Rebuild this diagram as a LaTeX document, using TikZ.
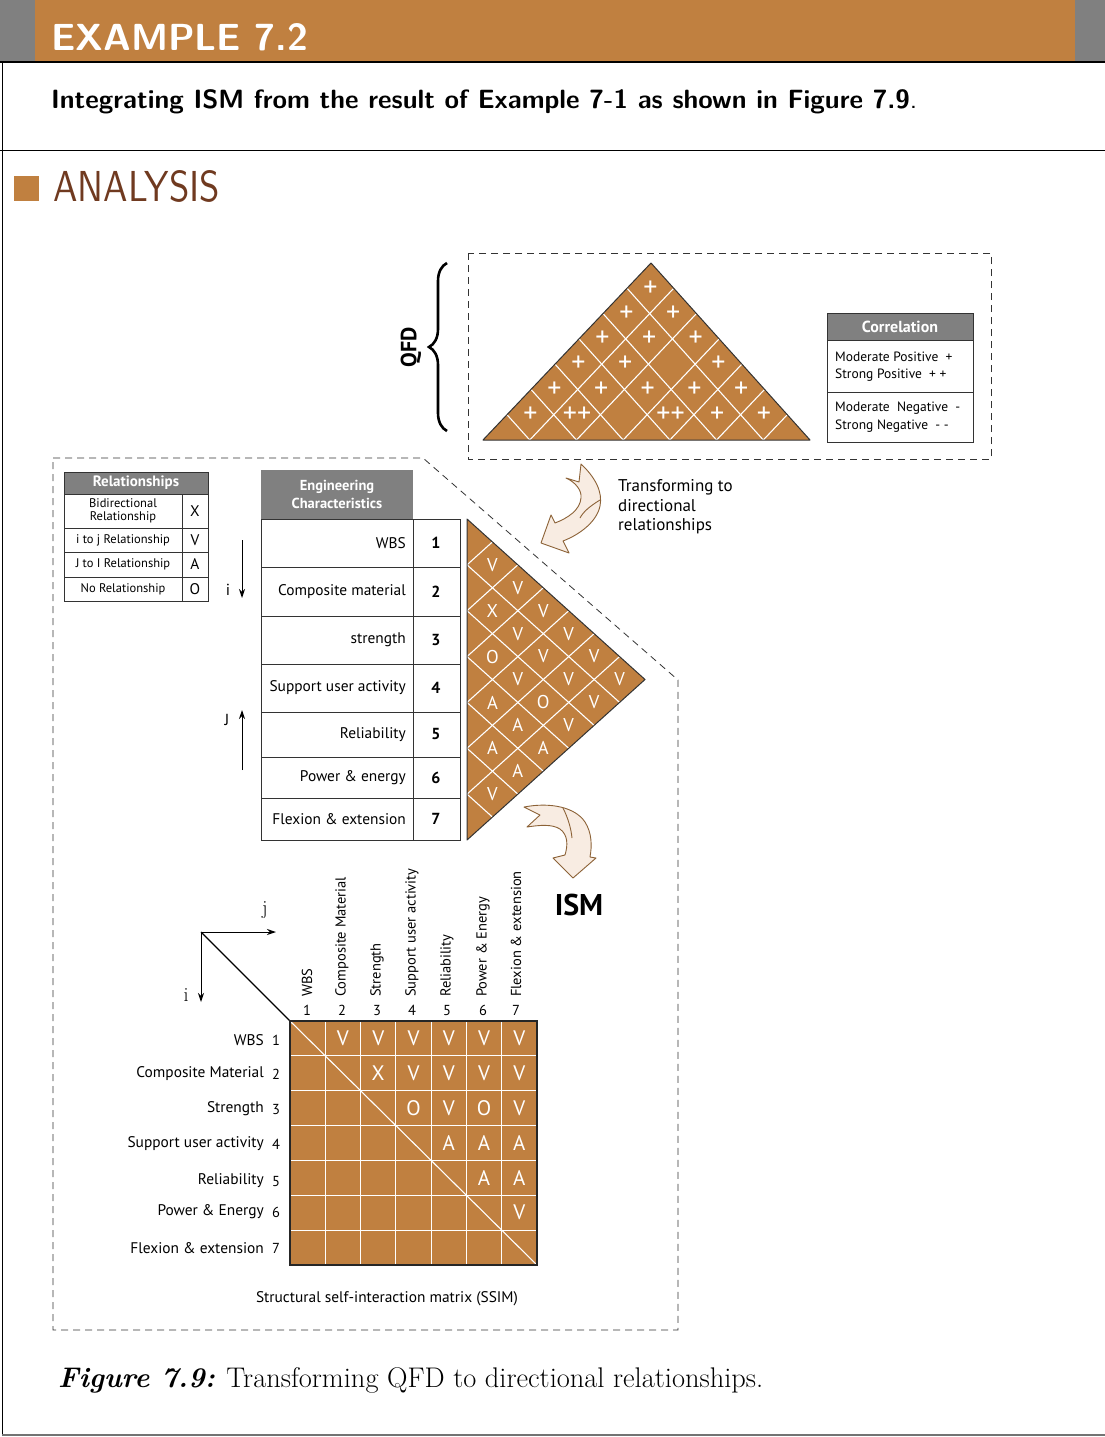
\documentclass[tikz,border=0pt]{standalone}
\usepackage{fontspec}
\usepackage{graphicx}
\newfontfamily\dfont{PT Sans}
\usetikzlibrary{arrows.meta,decorations.pathreplacing}
\definecolor{qorange}{RGB}{192,128,64}
\definecolor{qgray}{RGB}{128,128,128}
\definecolor{qbrown}{RGB}{112,58,32}
\definecolor{qcream}{RGB}{248,236,226}
\definecolor{qedge}{RGB}{140,98,55}
\newcommand\dfs[2]{\dfont\fontsize{#1}{#2}\selectfont}
\tikzset{
  hdrtext/.style={text=white, inner sep=0pt, font=\dfs{15}{18}\bfseries, align=center},
  tbl/.style={draw=black!80, line width=0.8pt},
  gridw/.style={draw=white, line width=1.1pt},
  rim/.style={draw=black!80, line width=1pt, line join=round},
  dashbox/.style={draw=black!80, dash pattern=on 7pt off 5pt, line width=0.8pt},
  lbl/.style={inner sep=0pt, font=\dfs{15.4}{18}},
  small/.style={inner sep=0pt, font=\dfs{12.5}{13}, align=center},
  celltxt/.style={inner sep=0pt, text=white, font=\dfs{18.5}{18}},
  mtxtxt/.style={inner sep=0pt, text=white, font=\dfs{21}{21}},
  plustxt/.style={inner sep=0pt, text=white, font=\dfs{28}{28}},
  bentarrow/.style={fill=qcream, draw=qedge, line width=0.9pt, line join=round},
  axisarrow/.style={-{Stealth[length=9pt,width=6pt]}, line width=1pt},
}
\begin{document}
\begin{tikzpicture}[x=1pt,y=-1pt]
\useasboundingbox (0,0) rectangle (1105,1437);
\fill[white] (0,0) rectangle (1105,1437);

% ---------- page heading ----------
\fill[qgray] (0,0) rectangle (35,62);
\fill[qgray] (1075,0) rectangle (1105,62);
\fill[qorange] (35,0) rectangle (1075,62);
\draw[line width=1.2pt] (0,62) -- (1105,62);
\draw[line width=1pt] (0,150.5) -- (1105,150.5);
\draw[line width=1pt] (2.5,62) -- (2.5,1435);
\draw[black!55, line width=1.6pt] (2,1435) -- (1105,1435);

\node[anchor=south west, inner sep=0pt, text=white] (title) at (51,51)
  {\resizebox{257pt}{27pt}{\sffamily\bfseries EXAMPLE 7.2}};
\node[anchor=base west, inner sep=0pt] (intro) at (51,108)
  {\resizebox{866pt}{!}{\sffamily\bfseries Integrating ISM from the result of Example 7-1 as shown in Figure 7.9\mdseries.}};
\fill[qorange] (14,176) rectangle (39,201);
\node[anchor=south west, inner sep=0pt, text=qbrown] (analysis) at (53,203)
  {\resizebox{167pt}{31pt}{\sffamily ANALYSIS}};

% ---------- QFD roof ----------
\draw[dashbox] (468,253) rectangle (991,459);
\draw[decorate, decoration={brace, amplitude=18pt}, line width=2.6pt] (447,431) -- (447,263);
\node[rotate=90, inner sep=0pt, font=\dfs{22}{22}\bfseries] (qfd) at (411,347) {QFD};

\fill[qorange] (483,440) -- (651,263) -- (810,440) -- cycle;
\foreach \k in {1,...,6} {
  \draw[gridw] ({483+24*\k},{440-25.286*\k}) -- ({483+46.714*\k},440);
  \draw[gridw] ({483+46.714*\k},440) -- ({651+22.714*\k},{263+25.286*\k});
}
\draw[rim] (483,440) -- (651,263) -- (810,440) -- cycle;
\foreach \i/\j/\s in {1/7/+, 1/6/+, 2/7/+, 1/5/+, 2/6/+, 3/7/+, 1/4/+, 2/5/+, 4/7/+,
                      1/3/+, 2/4/+, 3/5/+, 4/6/+, 5/7/+, 1/2/+, 2/3/++, 4/5/++, 5/6/+, 6/7/+}
  \node[plustxt] (qc\i\j) at ({483+24*(\j-0.5)+22.714*(\i-0.5)},{440-25.286*(\j-0.5)+25.286*(\i-0.5)}) {\s};

% correlation legend
\fill[qgray] (827,313) rectangle (973,340);
\node[hdrtext, font=\dfs{16}{18}\bfseries] (corrhead) at (900,326.5) {Correlation};
\draw[tbl] (827,313) rectangle (973,442);
\draw[tbl] (827,340) -- (973,340);
\draw[tbl] (827,392) -- (973,392);
\node[anchor=west, inner sep=0pt, font=\dfs{13.5}{15}] (cmp) at (835,357) {Moderate Positive\ \ +};
\node[anchor=west, inner sep=0pt, font=\dfs{13.5}{15}] (csp) at (835,375) {Strong Positive\ \ + +};
\node[anchor=west, inner sep=0pt, font=\dfs{13.5}{15}] (cmn) at (835,408) {Moderate\ \ Negative\ \ -};
\node[anchor=west, inner sep=0pt, font=\dfs{13.5}{15}] (csn) at (835,426) {Strong Negative\ \ - -};

% ---------- lower region ----------
\draw[dashbox] (53,458) -- (423,458) -- (678,680) -- (678,1330) -- (53,1330) -- cycle;

% relationships legend
\fill[qgray] (64,472) rectangle (208,494);
\node[hdrtext] (relhead) at (136,483) {Relationships};
\draw[tbl] (64,472) rectangle (208,601);
\foreach \y in {494,528,552,577} \draw[tbl] (64,\y) -- (208,\y);
\draw[tbl] (182,494) -- (182,601);
\node[small] (r1) at (123,511) {Bidirectional\\Relationship};
\node[small] (r2) at (123,540) {i to j Relationship};
\node[small] (r3) at (123,564.5) {J to I Relationship};
\node[small] (r4) at (123,589) {No Relationship};
\node[lbl] (s1) at (195,511) {X};
\node[lbl] (s2) at (195,540) {V};
\node[lbl] (s3) at (195,564.5) {A};
\node[lbl] (s4) at (195,589) {O};

% engineering characteristics
\fill[qgray] (261,470) rectangle (413,519);
\node[hdrtext, font=\dfs{14.5}{18}\bfseries] (enghead) at (337,494.5) {Engineering\\Characteristics};
\draw[tbl] (261,519) rectangle (460,840);
\draw[tbl] (413,519) -- (413,840);
\foreach \y in {567,616,664,712,757,798} \draw[tbl] (261,\y) -- (460,\y);
\foreach \y/\t/\n in {543/WBS/1, 591.5/Composite material/2, 640/strength/3, 688/Support user activity/4,
                      734.5/Reliability/5, 777.5/Power \& energy/6, 819/Flexion \& extension/7} {
  \node[lbl, anchor=east] (ec\n) at (406,\y) {\t};
  \node[lbl, font=\dfs{16}{18}\bfseries] (en\n) at (436,\y) {\n};
}

% direction arrows beside the table
\coordinate (itop) at (242,540);
\coordinate (ibot) at (242,598);
\draw[axisarrow] (itop) -- (ibot);
\node[lbl, font=\dfs{16}{18}] (ilab) at (228,590) {i};
\coordinate (Jbot) at (242,770);
\coordinate (Jtop) at (242,710);
\draw[axisarrow] (Jbot) -- (Jtop);
\node[lbl, font=\dfs{16}{18}] (Jlab) at (227,720) {J};

% directional roof
\fill[qorange] (467,519) -- (645,679.5) -- (467,840) -- cycle;
\foreach \k in {1,...,6} {
  \draw[gridw] ({467+25.4286*\k},{519+22.9286*\k}) -- (467,{519+45.857*\k});
  \draw[gridw] (467,{519+45.857*\k}) -- ({645-25.4286*\k},{679.5+22.9286*\k});
}
\draw[rim] (467,519) -- (645,679.5) -- (467,840) -- cycle;
\foreach \i/\j/\l in {1/2/V,1/3/V,1/4/V,1/5/V,1/6/V,1/7/V,
                      2/3/X,2/4/V,2/5/V,2/6/V,2/7/V,
                      3/4/O,3/5/V,3/6/O,3/7/V,
                      4/5/A,4/6/A,4/7/A,
                      5/6/A,5/7/A,6/7/V}
  \node[celltxt] (dc\i\j) at ({467+25.4286*(\j-\i)},{519+22.9286*(\i+\j-1)}) {\l};

% bent arrows
\draw[bentarrow] (581,464) .. controls (595,477) and (603,492) .. (600,506)
  .. controls (597,521) and (581,534) .. (563,541) -- (569,553) -- (541,543) -- (551,515) -- (555,523)
  .. controls (568,518) and (580,510) .. (581,498) .. controls (582,490) and (575,482) .. (566,478)
  -- (579,482) -- cycle;
\draw[qedge, line width=0.9pt] (600,500) .. controls (590,506) and (583,512) .. (580,518);
\node[anchor=base west, inner sep=0pt, font=\dfs{17}{20}] (tr1) at (618,491) {Transforming to};
\node[anchor=base west, inner sep=0pt, font=\dfs{17}{20}] (tr2) at (618,511) {directional};
\node[anchor=base west, inner sep=0pt, font=\dfs{17}{20}] (tr3) at (618,530) {relationships};

\draw[bentarrow] (524,807) .. controls (550,802) and (575,807) .. (585,822)
  .. controls (592,833) and (592,846) .. (590,857) -- (596,858) -- (573,878) -- (553,858) -- (565,855)
  .. controls (568,845) and (568,835) .. (560,829) .. controls (552,824) and (540,825) .. (527,827)
  -- (540,815) -- cycle;
\draw[qedge, line width=0.9pt] (563,808) .. controls (568,818) and (571,828) .. (572,838);
\node[inner sep=0pt, font=\dfs{30}{30}\bfseries] (ism) at (579,905) {ISM};

% ---------- SSIM ----------
\coordinate (org) at (201,932);
\coordinate (jend) at (276,932);
\coordinate (iend) at (201,1002);
\coordinate (mtl) at (290,1021);
\coordinate (mbr) at (537,1265);
\draw[axisarrow] (org) -- (jend);
\draw[axisarrow] (org) -- (iend);
\draw[line width=1.2pt] (org) -- (mtl);
\node[inner sep=0pt, font=\fontsize{20}{20}\selectfont] (jlab) at (265,910) {j};
\node[inner sep=0pt, font=\fontsize{20}{20}\selectfont] (ilab2) at (186,995) {i};

\fill[qorange] (mtl) rectangle (mbr);
\foreach \k in {1,...,6} {
  \draw[gridw] ({290+35.286*\k},1021) -- ({290+35.286*\k},1265);
  \draw[gridw] (290,{1021+34.857*\k}) -- (537,{1021+34.857*\k});
}
\draw[gridw] (mtl) -- (mbr);
\draw[line width=2.4pt, black!85] (mtl) rectangle (mbr);

\foreach \x/\t/\n in {307/WBS/1, 342/Composite Material/2, 377/Strength/3, 412/Support user activity/4,
                      447/Reliability/5, 483/Power \& Energy/6, 516/Flexion \& extension/7} {
  \node[lbl, font=\dfs{14.5}{16}, rotate=90, anchor=west] (ch\n) at (\x,997) {\t};
  \node[lbl, font=\dfs{14.5}{16}] (cn\n) at (\x,1010.5) {\n};
}
\foreach \y/\t/\n in {1040/WBS/1, 1074/Composite Material/2, 1109/Strength/3, 1144/Support user activity/4,
                      1181/Reliability/5, 1212/Power \& Energy/6, 1248/Flexion \& extension/7} {
  \node[lbl, anchor=east] (rh\n) at (264,\y) {\t};
  \node[lbl, font=\dfs{14.5}{16}] (rn\n) at (276,\y) {\n};
}
\foreach \i/\j/\l in {1/2/V,1/3/V,1/4/V,1/5/V,1/6/V,1/7/V,
                      2/3/X,2/4/V,2/5/V,2/6/V,2/7/V,
                      3/4/O,3/5/V,3/6/O,3/7/V,
                      4/5/A,4/6/A,4/7/A,
                      5/6/A,5/7/A,6/7/V}
  \node[mtxtxt] (m\i\j) at ({290+35.286*(\j-0.5)},{1021+34.857*(\i-0.5)}) {\l};
\node[lbl] (ssim) at (387,1299) {Structural self-interaction matrix (SSIM)};

% ---------- caption ----------
\node[anchor=base west, inner sep=0pt] (caption) at (58,1387)
  {\resizebox{705pt}{!}{\fontsize{26}{30}\selectfont\textbf{\textit{Figure 7.9:}} Transforming QFD to directional relationships.}};
\end{tikzpicture}
\end{document}
